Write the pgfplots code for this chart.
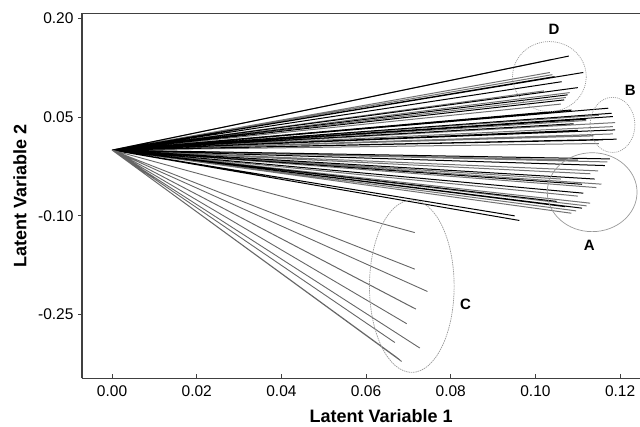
\documentclass[border=0pt]{standalone}
\usepackage{pgfplots}
\pgfplotsset{compat=1.18}
\usepackage{fontspec}
\setmainfont{Liberation Sans}

\pgfplotstableread{
x y
0 0
0.1079 0.143
nan nan
0 0
0.1113 0.118
nan nan
0 0
0.1045 0.1117
nan nan
0 0
0.1062 0.104
nan nan
0 0
0.1100 0.095
nan nan
0 0
0.1076 0.084
nan nan
0 0
0.1068 0.0763
nan nan
0 0
0.1085 0.061
nan nan
0 0
0.1172 0.0637
nan nan
0 0
0.1180 0.056
nan nan
0 0
0.1183 0.051
nan nan
0 0
0.1120 0.047
nan nan
0 0
0.1090 0.040
nan nan
0 0
0.1188 0.0307
nan nan
0 0
0.1192 0.0166
nan nan
0 0
0.1160 0.0155
nan nan
0 0
0.1100 0.030
nan nan
0 0
0.1176 -0.0134
nan nan
0 0
0.1164 -0.0235
nan nan
0 0
0.1140 -0.044
nan nan
0 0
0.1110 -0.052
nan nan
0 0
0.1113 -0.0655
nan nan
0 0
0.1110 -0.0883
nan nan
0 0
0.1070 -0.086
nan nan
0 0
0.1050 -0.078
nan nan
0 0
0.0951 -0.100
nan nan
0 0
0.0962 -0.107
}\darklines

\pgfplotstableread{
x y
0 0
0.1040 0.138
nan nan
0 0
0.1034 0.118
nan nan
0 0
0.1040 0.1147
nan nan
0 0
0.1020 0.090
nan nan
0 0
0.1081 0.0874
nan nan
0 0
0.1072 0.080
nan nan
0 0
0.1060 0.070
nan nan
0 0
0.1150 0.053
nan nan
0 0
0.1188 0.0418
nan nan
0 0
0.1183 0.0357
nan nan
0 0
0.1183 0.0246
nan nan
0 0
0.1137 0.0216
nan nan
0 0
0.1120 0.045
nan nan
0 0
0.1050 0.058
nan nan
0 0
0.1150 0.010
nan nan
0 0
0.1100 -0.015
nan nan
0 0
0.1170 -0.018
nan nan
0 0
0.1148 -0.0316
nan nan
0 0
0.1130 -0.036
nan nan
0 0
0.1156 -0.0518
nan nan
0 0
0.1144 -0.057
nan nan
0 0
0.1100 -0.070
nan nan
0 0
0.1129 -0.0807
nan nan
0 0
0.1121 -0.0848
nan nan
0 0
0.1096 -0.0924
nan nan
0 0
0.1085 -0.096
nan nan
0 0
0.1060 -0.0440
}\graylines

\pgfplotstableread{
x y
0 0
0.0715 -0.1254
nan nan
0 0
0.0715 -0.181
nan nan
0 0
0.0745 -0.215
nan nan
0 0
0.0718 -0.2418
nan nan
0 0
0.0712 -0.2400
nan nan
0 0
0.0696 -0.264
nan nan
0 0
0.0727 -0.301
nan nan
0 0
0.0668 -0.2926
nan nan
0 0
0.0680 -0.319
nan nan
0 0
0.0684 -0.3214
nan nan
0 0
0.0676 -0.317
nan nan
0 0
0.0672 -0.315
}\clines

\begin{document}
\begin{tikzpicture}
\begin{axis}[
  scale only axis, width=558pt, height=365pt,
  xmin=-0.0071, xmax=0.1247, ymin=-0.347, ymax=0.208,
  axis x line*=box, axis y line*=left,
  axis line style={line width=1.2pt, black!75},
  xtick={0,0.02,0.04,0.06,0.08,0.10,0.12},
  ytick={-0.25,-0.10,0.05,0.20},
  xtick pos=bottom, ytick pos=left,
  xtick align=inside, ytick align=outside,
  major tick length=4pt,
  tick style={line width=0.8pt, black!75},
  /pgf/number format/assume math mode=true,
  /pgf/number format/fixed, /pgf/number format/fixed zerofill,
  /pgf/number format/precision=2,
  scaled ticks=false,
  tick label style={font=\fontsize{15.5}{15.5}\selectfont},
  xticklabel style={yshift=-4pt},
  yticklabel style={xshift=-1pt},
  xlabel={Latent Variable 1}, ylabel={Latent Variable 2},
  every axis x label/.style={at={(axis description cs:0.536,-0.103)}, anchor=center, font=\bfseries\fontsize{18}{18}\selectfont},
  every axis y label/.style={at={(axis description cs:-0.111,0.5)}, anchor=center, rotate=90, font=\bfseries\fontsize{18}{18}\selectfont},
  unbounded coords=jump,
  clip=false,
]
\addplot[black!55, line width=1pt] table {\graylines};
\addplot[black, line width=1pt] table {\darklines};
\addplot[black!60, line width=0.9pt] table {\clines};

\draw[black!40, dash pattern=on 1pt off 1pt, line width=0.7pt] (axis cs:0.1033,0.1118) ellipse [x radius=0.0087, y radius=0.0532];
\draw[black!40, dash pattern=on 1pt off 1pt, line width=0.7pt] (axis cs:0.1182,0.0383) ellipse [x radius=0.0053, y radius=0.042];
\draw[black!40, line width=0.7pt] (axis cs:0.1134,-0.064) ellipse [x radius=0.0106, y radius=0.060];
\draw[black!40, dash pattern=on 1.5pt off 0.8pt, line width=0.7pt] (axis cs:0.0708,-0.207) ellipse [x radius=0.010, y radius=0.131];

\node[font=\bfseries\fontsize{15}{15}\selectfont] at (axis cs:0.1044,0.183) {D};
\node[font=\bfseries\fontsize{15}{15}\selectfont] at (axis cs:0.1224,0.0905) {B};
\node[font=\bfseries\fontsize{15}{15}\selectfont] at (axis cs:0.1127,-0.145) {A};
\node[font=\bfseries\fontsize{15}{15}\selectfont] at (axis cs:0.0835,-0.234) {C};
\end{axis}
\pgfresetboundingbox
\path (-82pt,-48.5pt) rectangle (558pt,378.3pt);
\end{tikzpicture}
\end{document}
